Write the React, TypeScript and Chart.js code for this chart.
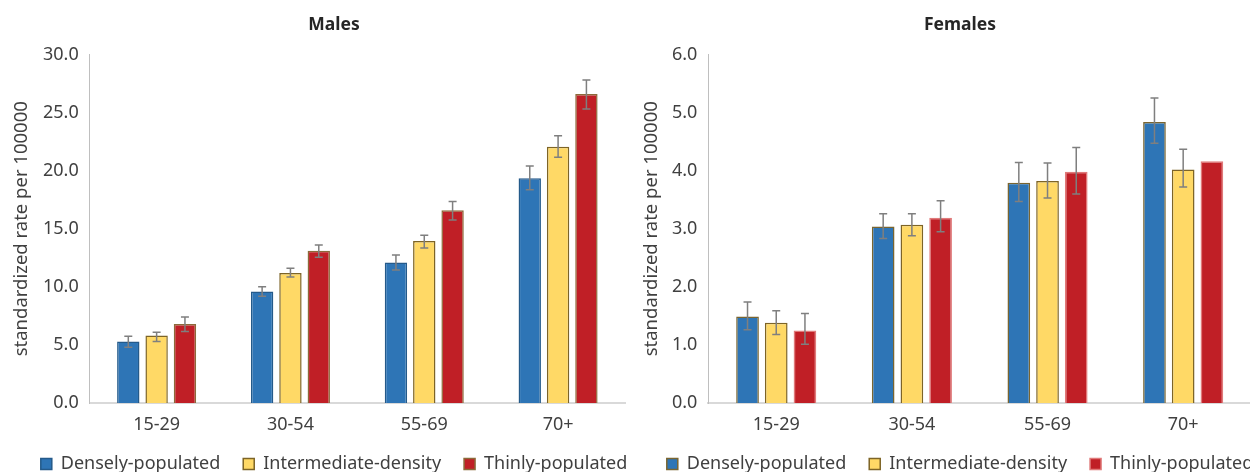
import React, { useEffect, useRef } from 'react';
import { Chart, registerables } from 'chart.js';

Chart.register(...registerables);

const categories = ['15-29', '30-54', '55-69', '70+'];
const seriesLabels = ['Densely-populated', 'Intermediate-density', 'Thinly-populated'];

const malesDense = [5.3, 9.6, 12.1, 19.35];
const malesIntermediate = [5.8, 11.2, 13.95, 22.05];
const malesThin = [6.8, 13.1, 16.6, 26.6];
const malesDenseLow = [4.8, 9.2, 11.45, 18.35];
const malesDenseHigh = [5.75, 10.0, 12.75, 20.4];
const malesIntermediateLow = [5.3, 10.85, 13.35, 21.15];
const malesIntermediateHigh = [6.1, 11.6, 14.45, 23.0];
const malesThinLow = [6.15, 12.55, 15.75, 25.3];
const malesThinHigh = [7.4, 13.6, 17.35, 27.8];

const femalesDense = [1.49, 3.04, 3.79, 4.84];
const femalesIntermediate = [1.38, 3.07, 3.82, 4.02];
const femalesThin = [1.25, 3.19, 3.98, 4.16];
const femalesDenseLow = [1.26, 2.83, 3.47, 4.47];
const femalesDenseHigh = [1.74, 3.26, 4.14, 5.25];
const femalesIntermediateLow = [1.18, 2.88, 3.53, 3.72];
const femalesIntermediateHigh = [1.59, 3.26, 4.13, 4.37];
const femalesThinLow = [1.01, 2.95, 3.6, null];
const femalesThinHigh = [1.54, 3.48, 4.4, null];

const malesAxisMax = 30;
const malesAxisStep = 5;
const femalesAxisMax = 6;
const femalesAxisStep = 1;

const yAxisTitle = 'standardized rate per 100000';
const fillColors = ['#2e75b6', '#ffd966', '#c01f26'];
const FONT = '"Noto Sans", sans-serif';

const errorBarPlugin = {
  id: 'errorBars',
  afterDatasetsDraw(chart: any, _args: any, opts: any) {
    const { ctx } = chart;
    const yScale = chart.scales.y;
    const lows = opts.lows || [];
    const highs = opts.highs || [];
    ctx.save();
    ctx.strokeStyle = opts.color || '#808080';
    ctx.lineWidth = opts.lineWidth || 1.5;
    lows.forEach((lowArr: any[], di: number) => {
      const meta = chart.getDatasetMeta(di);
      meta.data.forEach((bar: any, i: number) => {
        const lo = lowArr[i];
        const hi = highs[di][i];
        if (lo == null || hi == null) return;
        const x = bar.x;
        const y1 = yScale.getPixelForValue(lo);
        const y2 = yScale.getPixelForValue(hi);
        const cap = opts.capWidth || 8;
        ctx.beginPath();
        ctx.moveTo(x, y1);
        ctx.lineTo(x, y2);
        ctx.moveTo(x - cap / 2, y1);
        ctx.lineTo(x + cap / 2, y1);
        ctx.moveTo(x - cap / 2, y2);
        ctx.lineTo(x + cap / 2, y2);
        ctx.stroke();
      });
    });
    ctx.restore();
  },
};

type PanelProps = {
  left: number;
  width: number;
  height: number;
  title: string;
  values: number[][];
  lows: (number | null)[][];
  highs: (number | null)[][];
  max: number;
  step: number;
  borderColors: string[];
  padLeft: number;
  rightGap: number;
  yTitlePad: { top: number; bottom: number };
};

function Panel(p: PanelProps) {
  const ref = useRef<HTMLCanvasElement | null>(null);
  useEffect(() => {
    if (!ref.current) return;
    const chart = new Chart(ref.current, {
      type: 'bar',
      data: {
        labels: categories,
        datasets: p.values.map((vals, i) => ({
          label: seriesLabels[i],
          data: vals,
          backgroundColor: fillColors[i],
          borderColor: p.borderColors[i],
          borderWidth: 1.5,
          categoryPercentage: 0.635,
          barPercentage: 0.79,
        })),
      },
      options: {
        responsive: false,
        animation: false,
        layout: { padding: { left: p.padLeft, right: 0, top: 0, bottom: 0 } },
        plugins: {
          title: {
            display: true,
            text: p.title,
            color: '#262626',
            font: { family: FONT, size: 17.5, weight: 'bold' },
            padding: { top: 14.5, bottom: 19 },
          },
          legend: {
            display: true,
            position: 'bottom',
            labels: {
              boxWidth: 11,
              boxHeight: 11,
              padding: 23,
              color: '#404040',
              font: { family: FONT, size: 18 },
            },
          },
          tooltip: { enabled: false },
          errorBars: {
            lows: p.lows,
            highs: p.highs,
            color: '#7f7f7f',
            lineWidth: 1.5,
            capWidth: 8,
          },
        } as any,
        scales: {
          x: {
            grid: { display: false, drawTicks: false },
            border: { display: true, color: '#d9d9d9', width: 2 },
            ticks: { color: '#404040', padding: 11, font: { family: FONT, size: 18 } },
            afterFit: (s: any) => {
              s.height = 29;
            },
          },
          y: {
            min: 0,
            max: p.max,
            grid: { display: false, drawTicks: false },
            border: { display: true, color: '#bfbfbf', width: 1 },
            ticks: {
              stepSize: p.step,
              color: '#404040',
              padding: 11,
              font: { family: FONT, size: 18 },
              callback: (v: any) => Number(v).toFixed(1),
            },
            title: {
              display: true,
              text: yAxisTitle,
              color: '#404040',
              font: { family: FONT, size: 18.5 },
              padding: p.yTitlePad,
            },
          },
          yGap: {
            type: 'linear',
            position: 'right',
            display: true,
            grid: { display: false, drawTicks: false },
            border: { display: false },
            ticks: { display: false },
            afterFit: (s: any) => {
              s.width = p.rightGap;
            },
          },
        } as any,
      },
      plugins: [errorBarPlugin],
    });
    return () => chart.destroy();
  }, []);
  return (
    <canvas
      ref={ref}
      width={p.width}
      height={p.height}
      style={{ position: 'absolute', left: p.left, top: 0, width: p.width, height: p.height }}
    />
  );
}

export default function App() {
  useEffect(() => {
    document.body.style.margin = '0';
    document.body.style.overflow = 'hidden';
  }, []);
  return (
    <div style={{ position: 'relative', width: 1250, height: 472, overflow: 'hidden', background: '#ffffff' }}>
      <Panel
        left={0}
        width={654}
        height={483}
        title="Males"
        values={[malesDense, malesIntermediate, malesThin]}
        lows={[malesDenseLow, malesIntermediateLow, malesThinLow]}
        highs={[malesDenseHigh, malesIntermediateHigh, malesThinHigh]}
        max={malesAxisMax}
        step={malesAxisStep}
        borderColors={['#245a8a', '#7d6426', '#8c6a3a']}
        padLeft={14}
        rightGap={29}
        yTitlePad={{ top: -3.1, bottom: -1.1 }}
      />
      <Panel
        left={626}
        width={654}
        height={483}
        title="Females"
        values={[femalesDense, femalesIntermediate, femalesThin]}
        lows={[femalesDenseLow, femalesIntermediateLow, femalesThinLow]}
        highs={[femalesDenseHigh, femalesIntermediateHigh, femalesThinHigh]}
        max={femalesAxisMax}
        step={femalesAxisStep}
        borderColors={['#7a6530', '#7d6426', '#e07a7a']}
        padLeft={14}
        rightGap={29}
        yTitlePad={{ top: 0.9, bottom: -2.1 }}
      />
    </div>
  );
}
